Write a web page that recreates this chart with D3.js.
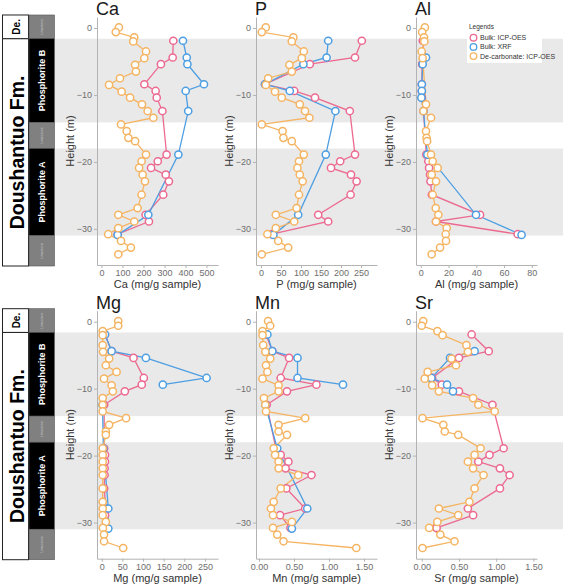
<!DOCTYPE html>
<html>
<head>
<meta charset="utf-8">
<script src="https://cdn.jsdelivr.net/npm/d3@7"></script>
<style>
body { margin: 0; background: #fff; }
svg { display: block; font-family: "Liberation Sans", Arial, Helvetica, sans-serif; }
</style>
</head>
<body>
<div id="chart"></div>
<script>
// sample heights (m)
const decarbDepth = [0.1, -0.6, -1.4, -2.0, -3.5, -4.5, -5.5, -6.5, -7.5, -8.5, -9.5, -10.4, -11.4, -12.4, -13.4, -14.4, -15.4, -16.4, -16.9, -18.9, -19.9, -20.9, -21.9, -22.9, -24.9, -26.9, -27.9, -28.9, -29.9, -30.8, -31.8, -32.8, -33.8]
const bulkDepth = [-1.9, -4.4, -5.4, -8.4, -9.4, -10.4, -12.4, -18.9, -19.9, -20.9, -21.9, -22.9, -24.9, -27.9, -28.9, -30.8]
const xrfDepth = [-1.9, -4.4, -5.4, -8.4, -9.4, -10.4, -12.4, -18.9, -27.9, -30.9]

const GAP = NaN // breaks the line (missing value inside a series)

const caDecarb = [83, 68, 156, 151, 212, 204, 160, 164, 88, 36, 96, 136, 193, 220, 247, 93, 120, 128, 160, 212, 191, 179, 196, 207, 191, 172, 80, 156, 80, 32, 93, 140, 80]
const caBulk = [342, 339, 283, 204, 258, 263, 290, 310, 268, 236, 306, 321, 294, 210, 226, 77]
const caXrf = [388, 406, 409, 488, 401, null, 413, 366, 223, 77]

const pDecarb = [12, 2, 81, 77, 107, 102, 71, 77, 18, 12, 35, 52, 97, 110, 121, 2, 54, 56, 77, 107, 95, 91, 97, 104, 95, 89, 37, 83, 37, 16, 43, 68, 2]
const pBulk = [252, 235, 122, 10, 83, 135, 222, 235, 198, 175, 225, 239, 224, 143, 168, 27]
const pXrf = [168, 164, 106, 10, 72, null, 186, 162, 93, 31]

const alDecarb = [3, 1, 2.4, 2.6, 0.7, 1.4, null, null, null, null, null, null, 3.8, 1.9, 7.4, null, 3.8, 4.2, 4.6, 7.4, 8.6, 12.2, 7.9, 11, 8.6, 10.8, 12.7, 11, 18.7, 18, 18.2, 13.9, 7.9]
const alBulk = [1.5, 2.5, 1, 0.8, 0.8, 0.8, 2, 4, 5.5, 6, 6.7, 7, 8, 42.7, 11, 69.8]
const alXrf = [null, 3.8, 1.4, 0.8, 0.8, 0.5, 2, 4.8, 39.8, 72.6]

const mgDecarb = [40, 40, 2.4, 2.4, 2.4, 3.2, 18, 10, 36, 5.6, 24, 27, 2.4, 2.4, 2.4, 59, 18, 10, 10, 2.4, 2.4, 2.4, 2.4, 2.4, 2.4, 2.4, 2.4, 2.4, 10, 3, 5.6, 5.6, 52]
const mgBulk = [8, 24, 77, 102, 97, 56, 6, 6, 8, 8, 7, 7, 6, 10, 8, 10]
const mgXrf = [8, 24, 107, 254, 148, GAP, 2, 4, 16, 16]

const mnDecarb = [0.13, 0.16, 0.05, 0.05, 0.06, 0.09, 0.16, 0.1, 0.12, 0.05, 0.28, 0.28, 0.07, 0.09, 0.1, 0.66, 0.28, 0.28, 0.4, 0.21, 0.23, 0.28, 0.28, 0.56, 0.31, 0.21, 0.17, 0.2, 0.47, 0.2, 0.26, 0.35, 1.39]
const mnBulk = [0.1, 0.19, 0.43, 0.31, 0.82, 0.4, 0.11, 0.24, 0.31, 0.42, 0.38, 0.75, 0.39, 0.66, 0.3, 0.45]
const mnXrf = [0.12, 0.19, 0.55, 0.55, 1.2, GAP, 0.09, 0.26, 0.69, 0.47]

const srDecarb = [0.02, 0.0, 0.21, 0.28, 0.6, 0.62, 0.40, 0.46, 0.08, 0.04, 0.14, 0.23, 0.69, 0.76, 0.98, 0.01, 0.29, 0.31, 0.49, 0.79, 0.71, 0.62, 0.69, 0.83, 0.71, 0.64, 0.23, 0.49, 0.21, 0.1, 0.25, 0.44, 0.01]
const srBulk = [0.67, 0.9, 0.5, 0.14, 0.27, 0.5, 0.95, 1.1, 0.91, 0.76, 1.05, 1.18, 1.05, 0.62, 0.69, 0.2]
const srXrf = [null, 0.71, 0.38, 0.13, 0.34, 0.42, null, null, null, null]

const caTicks = [0, 100, 200, 300, 400, 500]
const pTicks = [0, 50, 100, 150, 200, 250]
const alTicks = [0, 20, 40, 60, 80]
const mgTicks = [0, 50, 100, 150, 200, 250]
const mnTicks = [0, 0.5, 1, 1.5]
const srTicks = [0, 0.5, 1, 1.5]
const heightTicks = [0, -10, -20, -30]

const seriesNames = ['Bulk: ICP-OES', 'Bulk: XRF', 'De-carbonate: ICP-OES']
const seriesColors = ['#ec6a90', '#4d9ee2', '#f5b462']

// phosphorite intervals (grey bands) and lithology column
const bands = [[-1.6, -14.1], [-18, -31]]
const unitBounds = [1.95, -1.6, -14.1, -18, -31, -35.55]
const unitNames = ['Limestone', 'Phosphorite B', 'Limestone', 'Phosphorite A', 'Limestone']

const W = 563, H = 588
const svg = d3.select('#chart').append('svg')
  .attr('width', W)
  .attr('height', H)

const rows = [{top: 17, bottom: 265}, {top: 310.7, bottom: 558.7}]
const cols = [[97, 218], [256, 377], [416, 537]]
const yDomain = [1.65, -35.4]

const panels = [
  {name: 'Ca', row: 0, col: 0, dom: [-21.4, 554.8], ticks: caTicks, fmt: d3.format('d'), s: [caBulk, caXrf, caDecarb]},
  {name: 'P', row: 0, col: 1, dom: [-12.5, 290], ticks: pTicks, fmt: d3.format('d'), s: [pBulk, pXrf, pDecarb]},
  {name: 'Al', row: 0, col: 2, dom: [-3.4, 83.7], ticks: alTicks, fmt: d3.format('d'), s: [alBulk, alXrf, alDecarb]},
  {name: 'Mg', row: 1, col: 0, dom: [-11.4, 281.6], ticks: mgTicks, fmt: d3.format('d'), s: [mgBulk, mgXrf, mgDecarb]},
  {name: 'Mn', row: 1, col: 1, dom: [-0.043, 1.686], ticks: mnTicks, fmt: d3.format('.2f'), s: [mnBulk, mnXrf, mnDecarb]},
  {name: 'Sr', row: 1, col: 2, dom: [-0.077, 1.548], ticks: srTicks, fmt: d3.format('.2f'), s: [srBulk, srXrf, srDecarb]}
]
const depths = [bulkDepth, xrfDepth, decarbDepth]
const minus = d => d < 0 ? '\u2212' + Math.abs(d) : String(d)

rows.forEach(r => {
  r.y = d3.scaleLinear().domain(yDomain).range([r.top, r.bottom])
  const g = svg.append('g')

  // grey bands across the whole row
  g.selectAll('rect.band')
    .data(bands)
    .enter()
    .append('rect')
    .attr('x', 55)
    .attr('width', W - 55)
    .attr('y', d => r.y(d[0]))
    .attr('height', d => r.y(d[1]) - r.y(d[0]))
    .attr('fill', '#e9e9e9')

  // formation column
  const fm = [{t: unitBounds[0], b: unitBounds[1], label: 'De.', size: 10},
              {t: unitBounds[1], b: unitBounds[5], label: 'Doushantuo Fm.', size: 19.5}]
  g.selectAll('rect.fm')
    .data(fm)
    .enter()
    .append('rect')
    .attr('x', 2.5)
    .attr('width', 26)
    .attr('y', d => r.y(d.t))
    .attr('height', d => r.y(d.b) - r.y(d.t))
    .attr('fill', '#fff')
    .attr('stroke', '#222')
    .attr('stroke-width', 1)
  g.selectAll('text.fm')
    .data(fm)
    .enter()
    .append('text')
    .attr('transform', d => `translate(16.5,${(r.y(d.t) + r.y(d.b)) / 2}) rotate(-90)`)
    .attr('text-anchor', 'middle')
    .attr('dominant-baseline', 'central')
    .attr('font-weight', 'bold')
    .attr('font-size', d => d.size)
    .attr('fill', '#000')
    .text(d => d.label)

  // lithology column
  const units = unitNames.map((n, i) => ({n, t: unitBounds[i], b: unitBounds[i + 1]}))
  g.selectAll('rect.unit')
    .data(units)
    .enter()
    .append('rect')
    .attr('x', 29)
    .attr('width', 25.5)
    .attr('y', d => r.y(d.t))
    .attr('height', d => r.y(d.b) - r.y(d.t))
    .attr('fill', d => d.n === 'Limestone' ? '#808080' : '#000')
    .attr('stroke', '#555')
    .attr('stroke-width', 0.6)
  g.selectAll('text.unit')
    .data(units)
    .enter()
    .append('text')
    .attr('transform', d => `translate(41.8,${(r.y(d.t) + r.y(d.b)) / 2}) rotate(-90)`)
    .attr('text-anchor', 'middle')
    .attr('dominant-baseline', 'central')
    .attr('font-weight', d => d.n === 'Limestone' ? 'normal' : 'bold')
    .attr('font-size', d => d.n === 'Limestone' ? 3.5 : 9)
    .attr('fill', d => d.n === 'Limestone' ? '#c9c9c9' : '#fff')
    .text(d => d.n)
})

panels.forEach(p => {
  const r = rows[p.row]
  const [x0, x1] = cols[p.col]
  const y = r.y
  const x = d3.scaleLinear().domain(p.dom).range([x0, x1])
  const g = svg.append('g')

  const ya = g.append('g')
    .attr('transform', `translate(${x0},0)`)
    .call(d3.axisLeft(y).tickValues(heightTicks).tickFormat(minus).tickSize(3).tickSizeOuter(0).tickPadding(2))
  const xa = g.append('g')
    .attr('transform', `translate(0,${r.bottom})`)
    .call(d3.axisBottom(x).tickValues(p.ticks).tickFormat(p.fmt).tickSize(3).tickSizeOuter(0).tickPadding(2))
  ;[ya, xa].forEach(a => {
    a.select('.domain').attr('stroke', '#b3b3b3')
    a.selectAll('.tick line').attr('stroke', '#b3b3b3')
    a.selectAll('.tick text').attr('fill', '#6e6e6e').attr('font-size', 9)
      .attr('font-family', '"Liberation Sans", Arial, sans-serif')
  })

  g.append('text')
    .attr('x', x0 - 1)
    .attr('y', r.top - 2)
    .attr('font-size', 18)
    .attr('fill', '#1a1a1a')
    .text(p.name)

  g.append('text')
    .attr('x', (x0 + x1) / 2)
    .attr('y', r.bottom + 23)
    .attr('text-anchor', 'middle')
    .attr('font-size', 11)
    .attr('fill', '#333')
    .text(p.name + ' (mg/g sample)')

  g.append('text')
    .attr('transform', `translate(${x0 - 27},${(r.top + r.bottom) / 2}) rotate(-90)`)
    .attr('text-anchor', 'middle')
    .attr('dominant-baseline', 'central')
    .attr('font-size', 11)
    .attr('fill', '#333')
    .text('Height (m)')

  const sets = p.s.map((vals, k) => depths[k]
    .map((d, i) => ({d, v: vals[i]}))
    .filter(o => o.v !== null))

  const line = d3.line()
    .defined(o => Number.isFinite(o.v))
    .x(o => x(o.v))
    .y(o => y(o.d))

  sets.forEach((pts, k) => {
    g.append('path')
      .datum(pts)
      .attr('d', line)
      .attr('fill', 'none')
      .attr('stroke', seriesColors[k])
      .attr('stroke-width', 1.3)
  })
  sets.forEach((pts, k) => {
    g.selectAll(null)
      .data(pts.filter(o => Number.isFinite(o.v)))
      .enter()
      .append('circle')
      .attr('cx', o => x(o.v))
      .attr('cy', o => y(o.d))
      .attr('r', 3.6)
      .attr('fill', '#fff')
      .attr('stroke', seriesColors[k])
      .attr('stroke-width', 1.5)
  })
})

// legend (sits in the Al panel, runs off the right edge like the original)
const lg = svg.append('g')
lg.append('rect')
  .attr('x', 467)
  .attr('y', 20)
  .attr('width', 75)
  .attr('height', 43)
  .attr('fill', '#fff')
lg.append('text')
  .attr('x', 469)
  .attr('y', 29)
  .attr('font-size', 6.5)
  .attr('fill', '#333')
  .text('Legends')
lg.selectAll('circle')
  .data(seriesNames)
  .enter()
  .append('circle')
  .attr('cx', 473.5)
  .attr('cy', (d, i) => 37.7 + i * 9.2)
  .attr('r', 3.3)
  .attr('fill', '#fff')
  .attr('stroke', (d, i) => seriesColors[i])
  .attr('stroke-width', 1.3)
lg.selectAll('text.item')
  .data(seriesNames)
  .enter()
  .append('text')
  .attr('x', 480)
  .attr('y', (d, i) => 40.2 + i * 9.2)
  .attr('font-size', 7)
  .attr('fill', '#333')
  .text(d => d)
</script>
</body>
</html>
